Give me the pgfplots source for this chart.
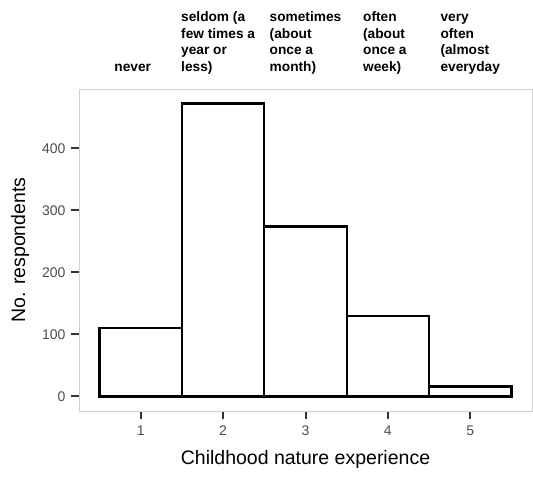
\documentclass[border=0pt]{standalone}
\usepackage{pgfplots}
\pgfplotsset{compat=1.18}
\usepackage{fontspec}
\setmainfont{Liberation Sans}

\definecolor{panelborder}{HTML}{D0D0D0}
\definecolor{ticktext}{HTML}{4D4D4D}
\definecolor{tickmark}{HTML}{333333}

\begin{document}
\begin{tikzpicture}
\begin{axis}[
  scale only axis,
  width=453pt, height=322pt,
  xmin=0.25, xmax=5.75,
  ymin=-23.6, ymax=495.6,
  axis line style={panelborder, line width=0.9pt},
  xtick={1,2,3,4,5},
  ytick={0,100,200,300,400},
  tick align=outside,
  major tick length=8pt,
  tick style={tickmark, line width=2pt},
  xtick pos=bottom, ytick pos=left,
  /pgf/number format/assume math mode=true,
  ticklabel style={font=\fontsize{14}{16}\selectfont, text=ticktext},
  xticklabel style={yshift=-3pt},
  yticklabel style={xshift=-2pt},
  xlabel={Childhood nature experience},
  ylabel={No. respondents},
  label style={font=\fontsize{19.5}{23}\selectfont, text=black},
  xlabel style={yshift=-8pt},
  ylabel style={yshift=6pt},
  clip=false,
]
\addplot[ybar, bar width=1, bar shift=0pt, fill=white, draw=black, line width=2.3pt]
  coordinates {(1,110) (2,472) (3,274) (4,130) (5,16)};

% category descriptions above the panel
\begin{scope}[every node/.style={font=\bfseries\fontsize{13.7}{16.7}\selectfont, align=left, anchor=south}]
\node[xshift=-8pt] at (axis cs:1,495.6) [yshift=9pt] {never\strut};
\node[xshift=-5pt] at (axis cs:2,495.6) [yshift=9pt] {seldom (a\\few times a\\year or\\less)\strut};
\node at (axis cs:3,495.6) [yshift=9pt] {sometimes\\(about\\once a\\month)\strut};
\node[xshift=-3pt] at (axis cs:4,495.6) [yshift=9pt] {often\\(about\\once a\\week)\strut};
\node at (axis cs:5,495.6) [yshift=9pt] {very\\often\\(almost\\everyday\strut};
\end{scope}
\end{axis}
\path[use as bounding box] ([xshift=-79pt,yshift=-68pt]current axis.south west)
  rectangle ([xshift=1pt,yshift=89pt]current axis.north east);
\end{tikzpicture}
\end{document}
